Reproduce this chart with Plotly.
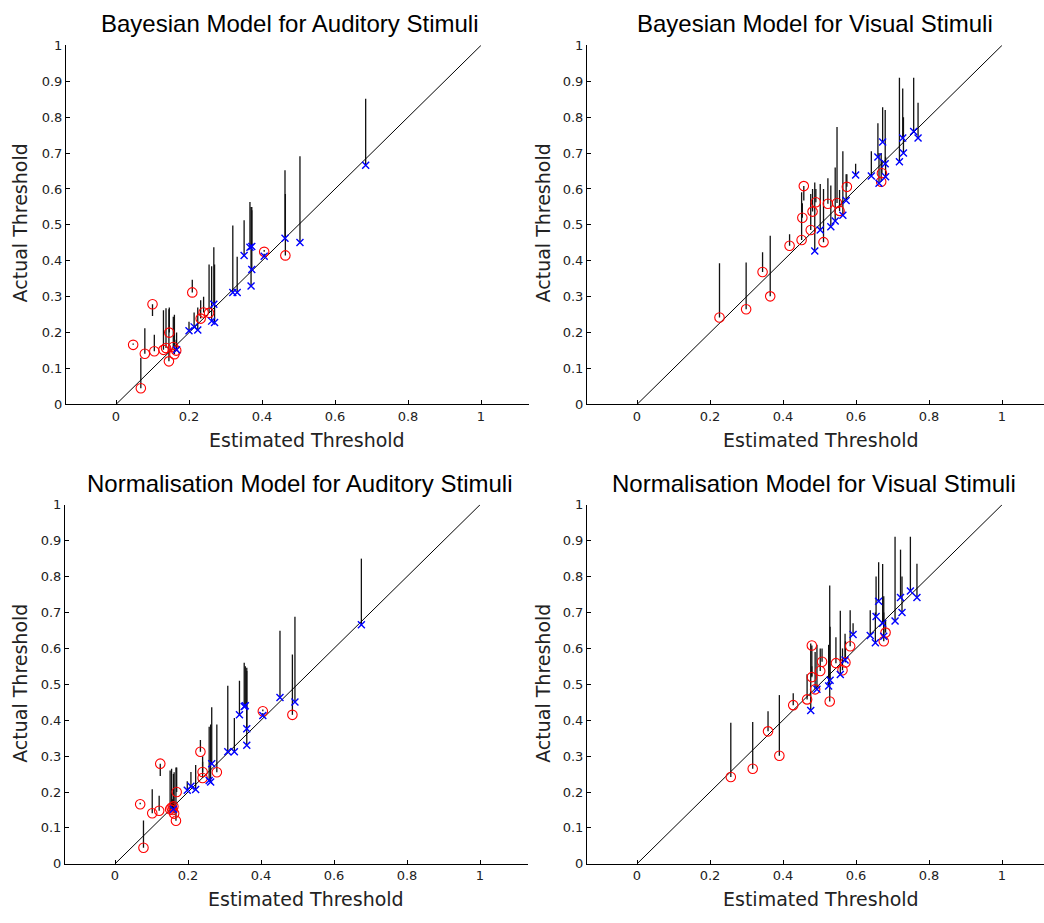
import plotly.graph_objects as go

W, H = 1044, 923

# ---------------- data ----------------
# Actual thresholds (shared between Bayesian and Normalisation panels)
aud_red_y = [0.166, 0.045, 0.141, 0.279, 0.148, 0.152, 0.157, 0.200, 0.120, 0.160, 0.140, 0.150, 0.312, 0.239, 0.256, 0.255, 0.425, 0.415]
aud_blue_y = [0.152, 0.205, 0.216, 0.207, 0.232, 0.279, 0.228, 0.312, 0.312, 0.415, 0.438, 0.440, 0.376, 0.330, 0.413, 0.463, 0.451, 0.666]
vis_red_y = [0.242, 0.265, 0.369, 0.301, 0.442, 0.458, 0.520, 0.608, 0.486, 0.537, 0.563, 0.452, 0.559, 0.561, 0.539, 0.606, 0.620, 0.644]
vis_blue_y = [0.427, 0.486, 0.495, 0.511, 0.527, 0.568, 0.639, 0.636, 0.689, 0.616, 0.731, 0.670, 0.634, 0.676, 0.742, 0.700, 0.760, 0.742]

# Bayesian model, auditory
ba_red_x = [0.047, 0.068, 0.079, 0.100, 0.105, 0.130, 0.137, 0.146, 0.145, 0.157, 0.160, 0.165, 0.209, 0.232, 0.240, 0.255, 0.406, 0.464]
ba_red_top = [0.170, 0.130, 0.212, 0.246, 0.194, 0.262, 0.268, 0.270, 0.265, 0.244, 0.250, 0.180, 0.347, 0.290, 0.300, 0.390, 0.430, 0.586]
ba_blue_x = [0.166, 0.200, 0.214, 0.224, 0.262, 0.268, 0.270, 0.320, 0.332, 0.351, 0.367, 0.372, 0.372, 0.370, 0.406, 0.463, 0.504, 0.684]
ba_blue_top = [0.200, 0.230, 0.256, 0.270, 0.385, 0.438, 0.390, 0.498, 0.411, 0.513, 0.564, 0.550, 0.541, 0.550, 0.420, 0.652, 0.691, 0.851]

# Bayesian model, visual
bv_red_x = [0.226, 0.299, 0.344, 0.365, 0.418, 0.451, 0.453, 0.457, 0.476, 0.481, 0.490, 0.511, 0.523, 0.548, 0.555, 0.575, 0.669, 0.671]
bv_red_top = [0.393, 0.395, 0.424, 0.470, 0.474, 0.591, 0.560, 0.568, 0.586, 0.600, 0.600, 0.600, 0.630, 0.773, 0.597, 0.641, 0.700, 0.680]
bv_blue_x = [0.487, 0.502, 0.531, 0.543, 0.564, 0.573, 0.599, 0.642, 0.660, 0.663, 0.673, 0.680, 0.681, 0.719, 0.728, 0.730, 0.758, 0.770]
bv_blue_top = [0.618, 0.614, 0.610, 0.660, 0.705, 0.641, 0.670, 0.705, 0.783, 0.700, 0.828, 0.820, 0.690, 0.910, 0.880, 0.800, 0.910, 0.840]

# Normalisation model, auditory
na_red_x = [0.069, 0.078, 0.102, 0.124, 0.121, 0.151, 0.155, 0.169, 0.167, 0.160, 0.162, 0.158, 0.234, 0.240, 0.240, 0.279, 0.405, 0.486]
na_red_top = [0.170, 0.121, 0.208, 0.245, 0.190, 0.260, 0.265, 0.268, 0.268, 0.250, 0.255, 0.180, 0.345, 0.284, 0.300, 0.388, 0.430, 0.583]
na_blue_x = [0.160, 0.198, 0.208, 0.221, 0.258, 0.265, 0.262, 0.309, 0.327, 0.341, 0.354, 0.357, 0.361, 0.361, 0.405, 0.452, 0.493, 0.675]
na_blue_top = [0.200, 0.230, 0.256, 0.275, 0.382, 0.436, 0.388, 0.496, 0.406, 0.510, 0.560, 0.550, 0.546, 0.537, 0.420, 0.649, 0.688, 0.850]

# Normalisation model, visual
nv_red_x = [0.257, 0.317, 0.359, 0.390, 0.428, 0.466, 0.479, 0.479, 0.488, 0.502, 0.507, 0.528, 0.545, 0.571, 0.563, 0.584, 0.676, 0.681]
nv_red_top = [0.393, 0.395, 0.425, 0.470, 0.475, 0.528, 0.550, 0.523, 0.590, 0.600, 0.600, 0.775, 0.631, 0.620, 0.600, 0.706, 0.700, 0.680]
nv_blue_x = [0.476, 0.493, 0.525, 0.529, 0.557, 0.570, 0.592, 0.639, 0.655, 0.653, 0.662, 0.673, 0.676, 0.707, 0.722, 0.726, 0.749, 0.767]
nv_blue_top = [0.614, 0.610, 0.610, 0.660, 0.705, 0.641, 0.670, 0.706, 0.800, 0.700, 0.840, 0.835, 0.745, 0.911, 0.875, 0.800, 0.911, 0.836]

titles = ["Bayesian Model for Auditory Stimuli", "Bayesian Model for Visual Stimuli",
          "Normalisation Model for Auditory Stimuli", "Normalisation Model for Visual Stimuli"]
x_label = "Estimated Threshold"
y_label = "Actual Threshold"
x_ticks = [0, 0.2, 0.4, 0.6, 0.8, 1]
x_ticklabels = ["0", "0.2", "0.4", "0.6", "0.8", "1"]
y_ticks = [0, 0.1, 0.2, 0.3, 0.4, 0.5, 0.6, 0.7, 0.8, 0.9, 1]
y_ticklabels = ["0", "0.1", "0.2", "0.3", "0.4", "0.5", "0.6", "0.7", "0.8", "0.9", "1"]
diag = [0, 1]

panels = [
    (ba_red_x, aud_red_y, ba_red_top, ba_blue_x, aud_blue_y, ba_blue_top),
    (bv_red_x, vis_red_y, bv_red_top, bv_blue_x, vis_blue_y, bv_blue_top),
    (na_red_x, aud_red_y, na_red_top, na_blue_x, aud_blue_y, na_blue_top),
    (nv_red_x, vis_red_y, nv_red_top, nv_blue_x, vis_blue_y, nv_blue_top),
]

# ---------------- layout geometry (pixels) ----------------
PPU = 365.0
origins = [(116, 404), (637, 404), (115, 871), (637, 871)]
XMIN = -0.137
title_pos = [(290, 17), (815, 17), (300, 484), (814, 484)]
xlab_pos = [(307, 440), (821, 440), (306, 907), (821, 907)]
ylab_pos = [(20, 220), (543, 220), (20, 688), (543, 688)]

fig = go.Figure()
layout = dict(
    width=W, height=H, margin=dict(l=0, r=0, t=0, b=0),
    paper_bgcolor="white", plot_bgcolor="white", showlegend=False,
    annotations=[],
)

for i, (rx, ry, rt, bx, by, bt) in enumerate(panels):
    n = i + 1
    xa = "x" if n == 1 else f"x{n}"
    ya = "y" if n == 1 else f"y{n}"
    ox, oy = origins[i]
    left = ox + XMIN * PPU
    right = min(W, ox + 1.132 * PPU)
    xmax = (right - ox) / PPU
    top = oy - PPU
    lx, ly = [], []
    for xs, ys, ts in ((rx, ry, rt), (bx, by, bt)):
        for x, y, t in zip(xs, ys, ts):
            lx += [x, x, None]
            ly += [y, t, None]
    fig.add_trace(go.Scatter(x=lx, y=ly, mode="lines", line=dict(color="#111", width=1.3),
                             xaxis=xa, yaxis=ya, hoverinfo="skip"))
    fig.add_trace(go.Scatter(x=diag, y=diag, mode="lines", line=dict(color="black", width=1),
                             xaxis=xa, yaxis=ya, hoverinfo="skip"))
    fig.add_trace(go.Scatter(x=rx, y=ry, mode="markers",
                             marker=dict(symbol="circle-open", size=9.5, color="red", line=dict(width=1.1)),
                             xaxis=xa, yaxis=ya))
    fig.add_trace(go.Scatter(x=bx, y=by, mode="markers",
                             marker=dict(symbol="x-thin-open", size=7, color="blue", line=dict(width=1.4, color="blue")),
                             xaxis=xa, yaxis=ya))
    axis_common = dict(showgrid=False, zeroline=False, showline=True, linecolor="black", linewidth=1,
                       ticks="inside", ticklen=4, tickcolor="black", mirror=False,
                       tickfont=dict(family="DejaVu Sans", size=13, color="#222"))
    layout["xaxis" if n == 1 else f"xaxis{n}"] = dict(
        axis_common, domain=[left / W, right / W], range=[XMIN, xmax],
        tickvals=x_ticks, ticktext=x_ticklabels, anchor=ya)
    layout["yaxis" if n == 1 else f"yaxis{n}"] = dict(
        axis_common, domain=[1 - oy / H, 1 - top / H], range=[0, 1],
        tickvals=y_ticks, ticktext=y_ticklabels, anchor=xa)
    tx, ty = title_pos[i]
    layout["annotations"].append(dict(text=titles[i], x=tx / W, y=1 - ty / H, xref="paper", yref="paper",
                                      xanchor="center", yanchor="middle", showarrow=False,
                                      font=dict(family="Liberation Sans", size=24, color="black")))
    tx, ty = xlab_pos[i]
    layout["annotations"].append(dict(text=x_label, x=tx / W, y=1 - ty / H, xref="paper", yref="paper",
                                      xanchor="center", yanchor="middle", showarrow=False,
                                      font=dict(family="DejaVu Sans", size=19, color="#222")))
    tx, ty = ylab_pos[i]
    layout["annotations"].append(dict(text=y_label, x=tx / W, y=1 - ty / H, xref="paper", yref="paper",
                                      xanchor="center", yanchor="middle", showarrow=False, textangle=-90,
                                      font=dict(family="DejaVu Sans", size=19, color="#222")))

fig.update_layout(**layout)
fig.write_html("out.html")
